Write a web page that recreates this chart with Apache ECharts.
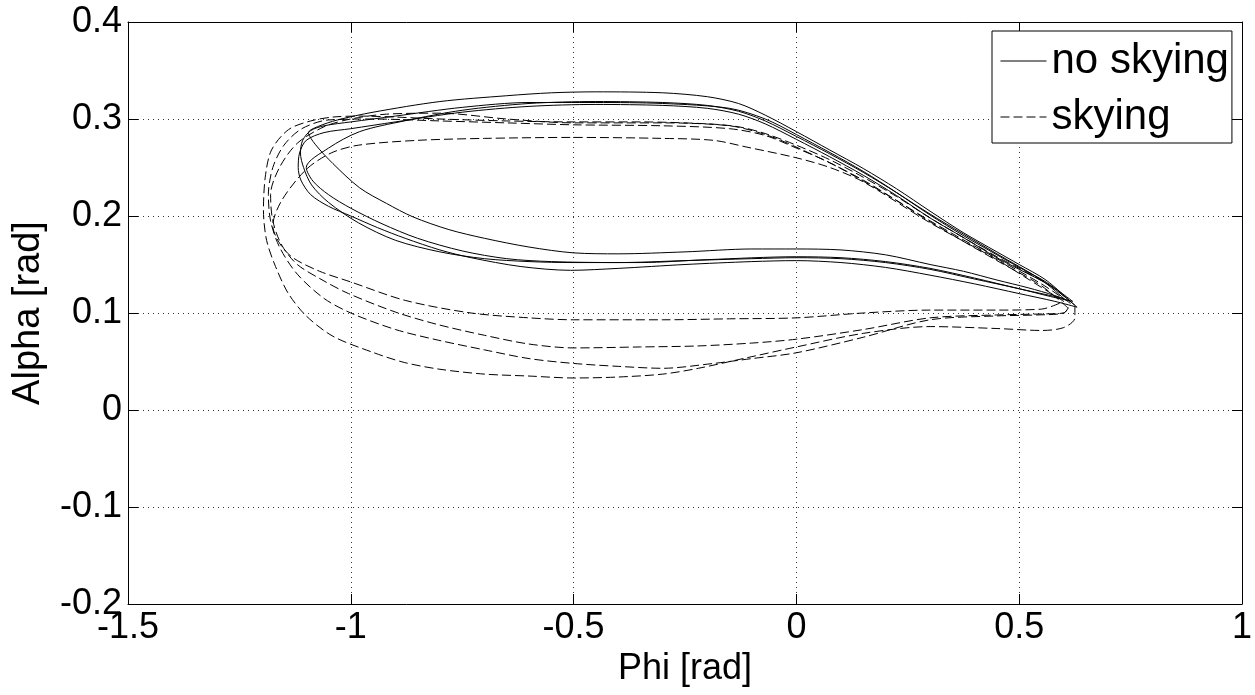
<!DOCTYPE html>
<html>
<head>
<meta charset="utf-8">
<script src="https://cdn.jsdelivr.net/npm/echarts@6/dist/echarts.min.js"></script>
<style>
  html, body { margin: 0; padding: 0; background: #fff; }
  #graph { width: 1255px; height: 695px; }
</style>
</head>
<body>
<div id="graph"></div>
<script>
// ticks
var xTicks = [-1.5, -1, -0.5, 0, 0.5, 1];
var yTicks = [-0.2, -0.1, 0, 0.1, 0.2, 0.3, 0.4];

// no skying loops [phi, alpha]
var noSky1 = [[0.615,0.112],[0.56,0.134],[0.5,0.15],[0.45,0.163],[0.374,0.183],[0.3,0.205],[0.225,0.228],[0.15,0.249],[0.075,0.268],[0,0.287],[-0.07,0.304],[-0.13,0.316],[-0.2,0.323],[-0.3,0.327],[-0.45,0.328],[-0.55,0.327],[-0.65,0.324],[-0.8,0.318],[-0.95,0.307],[-1.03,0.299],[-1.075,0.292],[-1.095,0.286],[-1.08,0.274],[-1.04,0.254],[-0.98,0.229],[-0.92,0.213],[-0.86,0.199],[-0.78,0.186],[-0.7,0.177],[-0.6,0.168],[-0.5,0.162],[-0.4,0.161],[-0.25,0.163],[-0.1,0.166],[0,0.166],[0.1,0.165],[0.2,0.16],[0.3,0.15],[0.375,0.143],[0.45,0.134],[0.52,0.126],[0.58,0.118],[0.615,0.112]];
var noSky2 = [[0.62,0.112],[0.56,0.132],[0.5,0.147],[0.45,0.16],[0.374,0.18],[0.3,0.201],[0.225,0.224],[0.15,0.245],[0.075,0.264],[0,0.282],[-0.07,0.298],[-0.13,0.308],[-0.2,0.314],[-0.3,0.317],[-0.45,0.318],[-0.6,0.316],[-0.75,0.309],[-0.88,0.298],[-0.98,0.287],[-1.05,0.27],[-1.1,0.25],[-1.085,0.236],[-1.05,0.222],[-1.0,0.208],[-0.93,0.192],[-0.85,0.177],[-0.75,0.164],[-0.65,0.156],[-0.55,0.153],[-0.4,0.152],[-0.25,0.154],[-0.1,0.156],[0,0.157],[0.1,0.156],[0.2,0.152],[0.3,0.145],[0.4,0.135],[0.5,0.125],[0.57,0.117],[0.62,0.112]];
var noSky3 = [[0.63,0.106],[0.57,0.128],[0.5,0.145],[0.45,0.157],[0.374,0.178],[0.3,0.198],[0.225,0.221],[0.15,0.242],[0.075,0.261],[0,0.279],[-0.07,0.295],[-0.13,0.305],[-0.2,0.311],[-0.3,0.314],[-0.45,0.315],[-0.6,0.313],[-0.75,0.307],[-0.9,0.297],[-1.0,0.29],[-1.06,0.286],[-1.1,0.278],[-1.115,0.265],[-1.118,0.25],[-1.112,0.237],[-1.09,0.222],[-1.05,0.21],[-1.0,0.2],[-0.94,0.188],[-0.878,0.177],[-0.8,0.165],[-0.73,0.157],[-0.62,0.148],[-0.507,0.144],[-0.4,0.146],[-0.25,0.15],[-0.1,0.153],[0,0.154],[0.1,0.152],[0.2,0.147],[0.3,0.139],[0.4,0.13],[0.5,0.12],[0.58,0.112],[0.63,0.106]];
var noSky4 = [[0.6,0.115],[0.55,0.134],[0.45,0.161],[0.3,0.202],[0.15,0.246],[0,0.284],[-0.07,0.3],[-0.15,0.311],[-0.3,0.316],[-0.45,0.317],[-0.6,0.317],[-0.75,0.312],[-0.9,0.303],[-1.0,0.297],[-1.06,0.293],[-1.09,0.288],[-1.108,0.278],[-1.113,0.265],[-1.106,0.25],[-1.088,0.232],[-1.05,0.214],[-0.983,0.193],[-0.9,0.175],[-0.8,0.163],[-0.7,0.156],[-0.6,0.153],[-0.5,0.152],[-0.35,0.152],[-0.2,0.155],[0,0.158],[0.1,0.157],[0.2,0.153],[0.3,0.146],[0.4,0.136],[0.5,0.125],[0.56,0.119],[0.6,0.115]];

// skying loops [phi, alpha]
var sky1 = [[0.625,0.108],[0.57,0.128],[0.5,0.146],[0.45,0.158],[0.374,0.178],[0.3,0.198],[0.225,0.22],[0.15,0.24],[0.075,0.258],[0,0.273],[-0.07,0.285],[-0.13,0.292],[-0.2,0.295],[-0.35,0.297],[-0.5,0.297],[-0.65,0.298],[-0.8,0.3],[-0.9,0.302],[-0.98,0.303],[-1.04,0.302],[-1.09,0.298],[-1.14,0.289],[-1.178,0.268],[-1.192,0.24],[-1.196,0.206],[-1.189,0.175],[-1.169,0.148],[-1.14,0.12],[-1.1,0.097],[-1.04,0.076],[-0.954,0.06],[-0.88,0.049],[-0.8,0.042],[-0.7,0.037],[-0.6,0.035],[-0.5,0.033],[-0.4,0.034],[-0.3,0.037],[-0.22,0.043],[-0.1,0.055],[0,0.065],[0.15,0.079],[0.3,0.086],[0.45,0.084],[0.55,0.082],[0.6,0.085],[0.625,0.095],[0.625,0.108]];
var sky2 = [[0.615,0.11],[0.55,0.13],[0.45,0.156],[0.3,0.195],[0.225,0.216],[0.15,0.236],[0.075,0.255],[0,0.27],[-0.07,0.283],[-0.15,0.29],[-0.3,0.293],[-0.5,0.294],[-0.65,0.296],[-0.8,0.298],[-0.95,0.3],[-1.05,0.299],[-1.11,0.29],[-1.15,0.273],[-1.175,0.25],[-1.185,0.222],[-1.18,0.195],[-1.16,0.168],[-1.12,0.14],[-1.06,0.115],[-1.0,0.1],[-0.9,0.083],[-0.804,0.072],[-0.7,0.062],[-0.6,0.053],[-0.5,0.048],[-0.4,0.045],[-0.3,0.043],[-0.186,0.048],[-0.1,0.053],[0,0.059],[0.15,0.075],[0.3,0.093],[0.45,0.097],[0.54,0.098],[0.6,0.1],[0.615,0.11]];
var sky3 = [[0.6,0.112],[0.52,0.135],[0.45,0.155],[0.3,0.193],[0.151,0.235],[0.075,0.25],[0,0.26],[-0.111,0.271],[-0.186,0.278],[-0.3,0.28],[-0.5,0.281],[-0.7,0.28],[-0.85,0.278],[-0.983,0.273],[-1.044,0.265],[-1.1,0.248],[-1.155,0.216],[-1.175,0.19],[-1.16,0.172],[-1.13,0.157],[-1.07,0.143],[-1.0,0.132],[-0.878,0.113],[-0.73,0.1],[-0.6,0.095],[-0.5,0.093],[-0.3,0.093],[-0.15,0.094],[0,0.095],[0.15,0.1],[0.3,0.103],[0.45,0.103],[0.55,0.104],[0.6,0.112]];
var sky4 = [[0.61,0.105],[0.55,0.128],[0.45,0.154],[0.3,0.194],[0.15,0.237],[0,0.271],[-0.07,0.284],[-0.15,0.293],[-0.3,0.296],[-0.5,0.296],[-0.65,0.3],[-0.8,0.306],[-0.92,0.305],[-1.0,0.3],[-1.06,0.292],[-1.12,0.275],[-1.16,0.25],[-1.18,0.222],[-1.175,0.195],[-1.155,0.17],[-1.12,0.15],[-1.06,0.133],[-1.005,0.12],[-0.9,0.101],[-0.804,0.088],[-0.7,0.077],[-0.6,0.068],[-0.5,0.064],[-0.35,0.065],[-0.223,0.066],[-0.1,0.069],[0,0.073],[0.151,0.083],[0.3,0.095],[0.45,0.098],[0.55,0.099],[0.6,0.1],[0.61,0.105]];

var noSkyLoops = [noSky1, noSky2, noSky3, noSky4];
var skyLoops = [sky1, sky2, sky3, sky4];

var chartDom = document.getElementById('graph');
var myChart = echarts.init(chartDom);
var option;

var font = 'Liberation Sans, Arial, sans-serif';

function fmt(v) {
  return String(+v.toFixed(2));
}

function loopSeries(name, loop, dashed) {
  return {
    name: name,
    type: 'line',
    data: loop,
    symbol: 'none',
    smooth: 0.3,
    animation: false,
    itemStyle: { color: '#000' },
    lineStyle: {
      color: '#000',
      width: 1,
      type: dashed ? [9, 4] : 'solid'
    }
  };
}

var series = [];
noSkyLoops.forEach(function (l) { series.push(loopSeries('no skying', l, false)); });
skyLoops.forEach(function (l) { series.push(loopSeries('skying', l, true)); });

function axisBase(ticks, show) {
  return {
    type: 'value',
    min: ticks[0],
    max: ticks[ticks.length - 1],
    interval: +(ticks[1] - ticks[0]).toFixed(3),
    axisLine: { show: true, onZero: false, lineStyle: { color: '#000', width: 1 } },
    axisTick: { show: true, inside: true, length: 10, lineStyle: { color: '#000' } },
    axisLabel: {
      show: show,
      color: '#000',
      fontSize: 36,
      fontFamily: font,
      formatter: fmt
    },
    splitLine: {
      show: show,
      lineStyle: { color: '#333', type: [1, 4], width: 1 }
    }
  };
}

var xMain = axisBase(xTicks, true);
xMain.position = 'bottom';
xMain.axisLabel.margin = 6;
xMain.name = 'Phi [rad]';
xMain.nameLocation = 'middle';
xMain.nameGap = 44;
xMain.nameTextStyle = { color: '#000', fontSize: 36, fontFamily: font };

var xTop = axisBase(xTicks, false);
xTop.position = 'top';

var yMain = axisBase(yTicks, true);
yMain.position = 'left';
yMain.axisLabel.margin = 6;
yMain.name = 'Alpha [rad]';
yMain.nameLocation = 'middle';
yMain.nameGap = 80;
yMain.nameTextStyle = { color: '#000', fontSize: 38, fontFamily: font };

var yRight = axisBase(yTicks, false);
yRight.position = 'right';

option = {
  backgroundColor: '#fff',
  animation: false,
  grid: { left: 128, top: 22, width: 1118, height: 582, containLabel: false },
  legend: {
    data: ['no skying', 'skying'],
    orient: 'vertical',
    left: 992,
    top: 31,
    padding: [7, 3, 3, 8],
    itemWidth: 46,
    itemHeight: 14,
    itemGap: 10,
    backgroundColor: '#fff',
    borderColor: '#000',
    borderWidth: 1,
    borderRadius: 0,
    selectedMode: false,
    itemStyle: { opacity: 0 },
    lineStyle: { color: '#000', width: 1 },
    textStyle: { color: '#000', fontSize: 42, fontFamily: font, lineHeight: 46 }
  },
  xAxis: [xMain, xTop],
  yAxis: [yMain, yRight],
  series: series
};

option && myChart.setOption(option);
</script>
</body>
</html>
